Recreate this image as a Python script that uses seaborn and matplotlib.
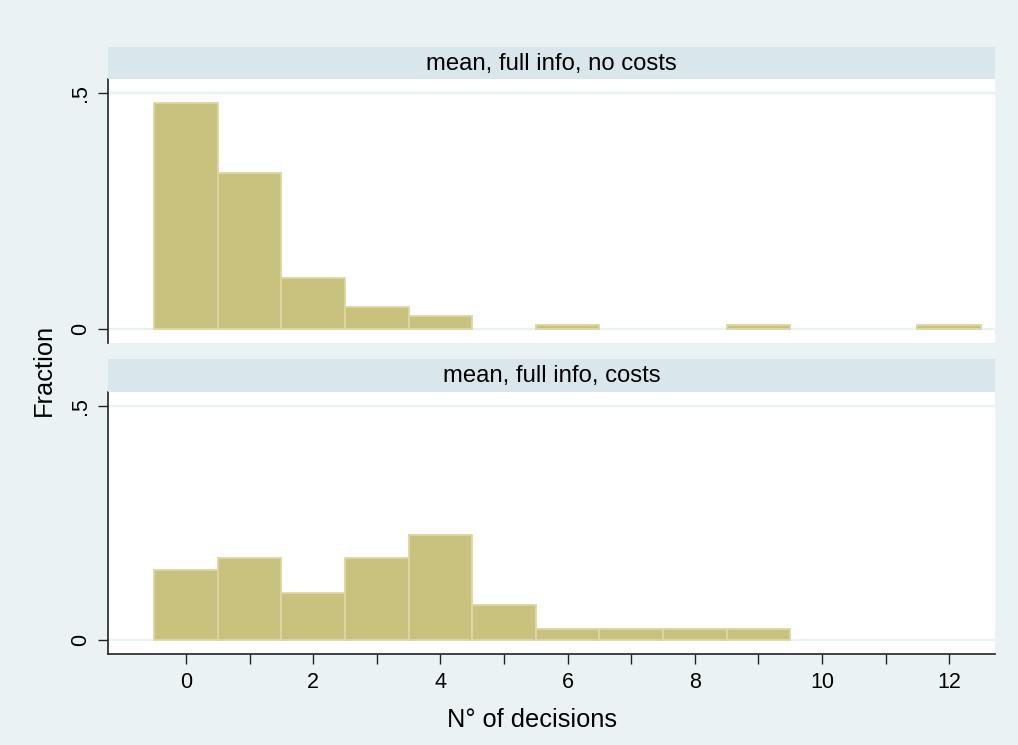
import matplotlib
matplotlib.use("Agg")
import matplotlib.pyplot as plt
import seaborn as sns
import pandas as pd

# Share of subjects by number of decisions, per treatment
decisions_nocost = [0, 1, 2, 3, 4, 6, 9, 12]
fraction_nocost = [0.478, 0.330, 0.109, 0.048, 0.028, 0.009, 0.009, 0.009]

decisions_cost = [0, 1, 2, 3, 4, 5, 6, 7, 8, 9]
fraction_cost = [0.150, 0.175, 0.100, 0.175, 0.225, 0.075, 0.025, 0.025, 0.025, 0.025]

panel_titles = ["mean, full info, no costs", "mean, full info, costs"]
x_ticks = list(range(0, 13))
x_ticklabels = [str(v) if v % 2 == 0 else "" for v in x_ticks]
y_ticks = [0, 0.5]
y_ticklabels = ["0", ".5"]
x_title = "N° of decisions"
y_title = "Fraction"

BG = "#EAF2F3"
STRIP = "#D9E6EB"
BAR = "#C9C27F"
BAR_EDGE = "#DCD7A3"
INK = "#000000"

sns.set_theme(style="white")
plt.rcParams["font.family"] = ["Liberation Sans", "DejaVu Sans"]

W, H = 1018, 745
fig = plt.figure(figsize=(W / 100, H / 100), dpi=100, facecolor=BG)


def rect(x0, y0, x1, y1):
    return [x0 / W, 1 - y1 / H, (x1 - x0) / W, (y1 - y0) / H]


panels = [
    (pd.DataFrame({"n": decisions_nocost, "frac": fraction_nocost}), rect(108, 79, 995, 343), rect(108, 47, 995, 79)),
    (pd.DataFrame({"n": decisions_cost, "frac": fraction_cost}), rect(108, 392, 995, 654), rect(108, 359, 995, 392)),
]

for i, (df, plot_rect, strip_rect) in enumerate(panels):
    ax = fig.add_axes(plot_rect)
    ax.set_facecolor("white")
    for y in y_ticks:
        ax.axhline(y, color=BG, lw=1.6, zorder=0)
    sns.histplot(data=df, x="n", weights="frac", discrete=True, stat="count",
                 color=BAR, edgecolor=BAR_EDGE, linewidth=1.3, alpha=1, ax=ax, zorder=2)
    # empty bins leave no outline
    for p in ax.patches:
        if p.get_height() <= 0:
            p.set_visible(False)
    ax.set_xlim(-1.227, 12.72)
    ax.set_ylim(-0.029, 0.529)
    ax.set_yticks(y_ticks)
    ax.set_yticklabels(y_ticklabels, rotation=90, va="center", fontsize=15.5, color=INK)
    ax.set_ylabel("")
    ax.set_xlabel("")
    for side in ["top", "right"]:
        ax.spines[side].set_visible(False)
    ax.spines["left"].set_color("#222222")
    ax.spines["left"].set_linewidth(1.2)
    ax.tick_params(axis="y", direction="out", length=7, width=1, color="#222222", pad=5, left=True)
    if i == 0:
        ax.spines["bottom"].set_visible(False)
        ax.set_xticks([])
    else:
        ax.spines["bottom"].set_color("#222222")
        ax.spines["bottom"].set_linewidth(1.2)
        ax.set_xticks(x_ticks)
        ax.set_xticklabels(x_ticklabels, fontsize=15.5, color=INK)
        ax.tick_params(axis="x", direction="out", length=7, width=1, color="#222222", pad=6, bottom=True)
        ax.set_xlabel(x_title, fontsize=18.3, color=INK)
        ax.xaxis.set_label_coords((532 - 108) / 887, -0.205)

    sax = fig.add_axes(strip_rect)
    sax.set_facecolor(STRIP)
    sax.set_xticks([])
    sax.set_yticks([])
    for s in sax.spines.values():
        s.set_visible(False)
    sax.text(0.5, 0.47, panel_titles[i], ha="center", va="center", fontsize=17.2, color=INK)

fig.text(44 / W, 1 - 370 / H, y_title, rotation=90, ha="center", va="center", fontsize=18.3, color=INK)

fig.savefig("out.png", dpi=100, facecolor=BG)
